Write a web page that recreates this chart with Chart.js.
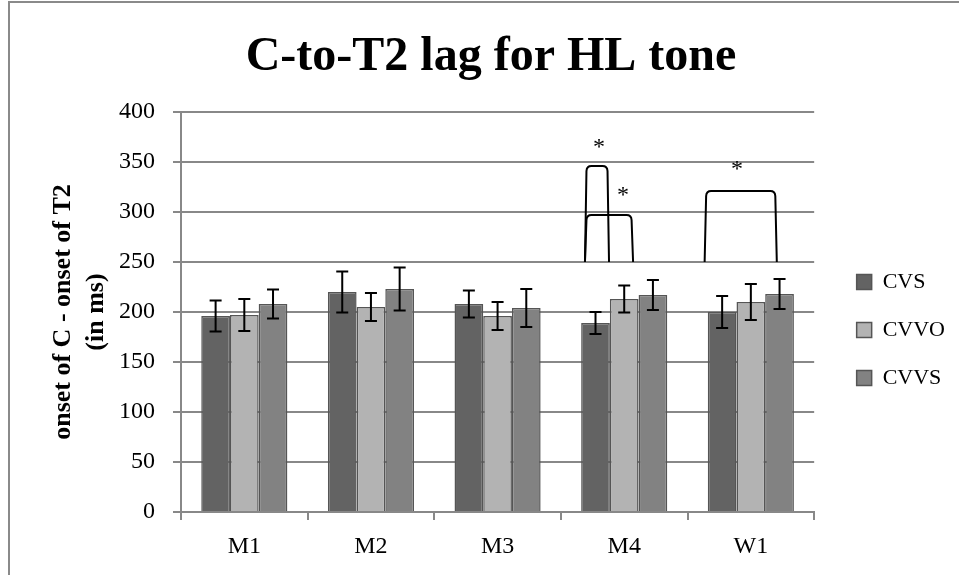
<!DOCTYPE html>
<html>
<head>
<meta charset="utf-8">
<script src="https://cdn.jsdelivr.net/npm/chart.js@4.4.0/dist/chart.umd.min.js"></script>
<style>
  body { margin: 0; background: #fff; }
  #wrap { position: relative; width: 959px; height: 575px; }
  #frame { position: absolute; left: 8px; top: 1px; right: -2px; bottom: -2px;
           border-left: 2px solid #8a8a8a; border-top: 2px solid #8a8a8a; pointer-events: none; }
</style>
</head>
<body>
<div id="wrap">
  <canvas id="chart" width="959" height="575"></canvas>
  <div id="frame"></div>
</div>
<script>
// data
const categories = ['M1', 'M2', 'M3', 'M4', 'W1'];
const cvs = [196, 220, 208, 189, 200];
const cvvo = [197, 205, 196, 213, 210];
const cvvs = [208, 223, 204, 217, 218];
const cvsErr = [15.5, 20.5, 13.5, 11, 16];
const cvvoErr = [16, 14, 14, 13.5, 18];
const cvvsErr = [14.5, 21.5, 19, 15, 15];
const yTicks = [0, 50, 100, 150, 200, 250, 300, 350, 400];

// significance brackets (category, offsets in category widths, values)
const bracketCat = ['M4', 'M4', 'W1'];
const bracketFrom = [-0.31, -0.31, -0.365];
const bracketTo = [-0.12, 0.07, 0.205];
const bracketTop = [346, 297, 321];
const bracketBase = 250;
const starCat = ['M4', 'M4', 'W1'];
const starOffset = [-0.20, -0.01, -0.11];
const starValue = [369, 321, 347];

const serif = '"Liberation Serif", "DejaVu Serif", serif';
const gridColor = '#888888';

// error bars
const errorBars = {
  id: 'errorBars',
  afterDatasetsDraw(chart) {
    const ctx = chart.ctx;
    const y = chart.scales.y;
    ctx.save();
    ctx.strokeStyle = '#000';
    ctx.lineWidth = 2;
    chart.data.datasets.forEach((ds, i) => {
      const meta = chart.getDatasetMeta(i);
      meta.data.forEach((bar, j) => {
        const v = ds.data[j];
        const e = ds.errors[j];
        const top = y.getPixelForValue(v + e);
        const bot = y.getPixelForValue(v - e);
        const hw = 6;
        ctx.beginPath();
        ctx.moveTo(bar.x, top); ctx.lineTo(bar.x, bot);
        ctx.moveTo(bar.x - hw, top); ctx.lineTo(bar.x + hw, top);
        ctx.moveTo(bar.x - hw, bot); ctx.lineTo(bar.x + hw, bot);
        ctx.stroke();
      });
    });
    ctx.restore();
  }
};

// brackets and asterisks
const significance = {
  id: 'significance',
  afterDatasetsDraw(chart) {
    const ctx = chart.ctx;
    const x = chart.scales.x;
    const y = chart.scales.y;
    const cw = x.width / categories.length;
    ctx.save();
    ctx.strokeStyle = '#000';
    ctx.lineWidth = 2;
    ctx.lineJoin = 'round';
    bracketCat.forEach((cat, i) => {
      const c = x.getPixelForValue(categories.indexOf(cat));
      const x1 = c + bracketFrom[i] * cw;
      const x2 = c + bracketTo[i] * cw;
      const yb = y.getPixelForValue(bracketBase);
      const yt = y.getPixelForValue(bracketTop[i]);
      const r = 5;
      ctx.beginPath();
      ctx.moveTo(x1, yb);
      ctx.lineTo(x1 + 1.5, yt + r);
      ctx.quadraticCurveTo(x1 + 1.8, yt, x1 + 1.5 + r, yt);
      ctx.lineTo(x2 - 1.5 - r, yt);
      ctx.quadraticCurveTo(x2 - 1.8, yt, x2 - 1.5, yt + r);
      ctx.lineTo(x2, yb);
      ctx.stroke();
    });
    ctx.fillStyle = '#000';
    ctx.font = '24px ' + serif;
    ctx.textAlign = 'center';
    ctx.textBaseline = 'middle';
    starCat.forEach((cat, i) => {
      const c = x.getPixelForValue(categories.indexOf(cat));
      ctx.fillText('*', c + starOffset[i] * cw, y.getPixelForValue(starValue[i]) + 4.5);
    });
    ctx.restore();
  }
};

new Chart(document.getElementById('chart'), {
  type: 'bar',
  data: {
    labels: categories,
    datasets: [
      { label: 'CVS', data: cvs, errors: cvsErr, backgroundColor: '#636363', borderColor: '#555555', borderWidth: 1.5 },
      { label: 'CVVO', data: cvvo, errors: cvvoErr, backgroundColor: '#b3b3b3', borderColor: '#555555', borderWidth: 1.5 },
      { label: 'CVVS', data: cvvs, errors: cvvsErr, backgroundColor: '#828282', borderColor: '#555555', borderWidth: 1.5 }
    ]
  },
  options: {
    responsive: false,
    animation: false,
    devicePixelRatio: 1,
    layout: { padding: { left: 27, right: 4, top: 0, bottom: 0 } },
    datasets: { bar: { categoryPercentage: 0.68, barPercentage: 1.0 } },
    plugins: {
      title: {
        display: true,
        text: 'C-to-T2 lag for HL tone',
        color: '#000',
        font: { family: serif, size: 48, weight: 'bold', lineHeight: 1.2 },
        padding: { top: 29, bottom: 25.4 }
      },
      legend: {
        position: 'right',
        fullSize: false,
        title: { display: true, text: '', font: { size: 10, lineHeight: 1 }, padding: { top: 13, bottom: 13 } },
        labels: {
          color: '#000',
          font: { family: serif, size: 22 },
          boxWidth: 15,
          boxHeight: 15,
          padding: 26
        }
      },
      tooltip: { enabled: false }
    },
    scales: {
      x: {
        grid: { display: true, drawOnChartArea: false, drawTicks: true, tickLength: 8, color: gridColor, lineWidth: 2 },
        border: { display: true, color: gridColor, width: 2 },
        ticks: { color: '#000', font: { family: serif, size: 24 }, padding: 12 },
        afterFit(s) { s.height = 63; }
      },
      y: {
        min: 0,
        max: 400,
        afterBuildTicks(s) { s.ticks = yTicks.map(v => ({ value: v })); },
        grid: { color: gridColor, lineWidth: 2, tickLength: 8 },
        border: { display: true, color: gridColor, width: 2 },
        ticks: { color: '#000', font: { family: serif, size: 24 }, padding: 18 },
        title: {
          display: true,
          text: ['onset of C - onset of T2', '(in ms)'],
          color: '#000',
          font: { family: serif, size: 26, weight: 'bold', lineHeight: 1.3 },
          padding: { top: 19, bottom: 0 }
        },
        afterFit(s) { s.width = 154; }
      },
      y2: {
        position: 'right',
        display: true,
        grid: { display: false },
        border: { display: false },
        ticks: { display: false },
        afterFit(s) { s.width = 16.5; }
      }
    }
  },
  plugins: [errorBars, significance]
});
</script>
</body>
</html>
